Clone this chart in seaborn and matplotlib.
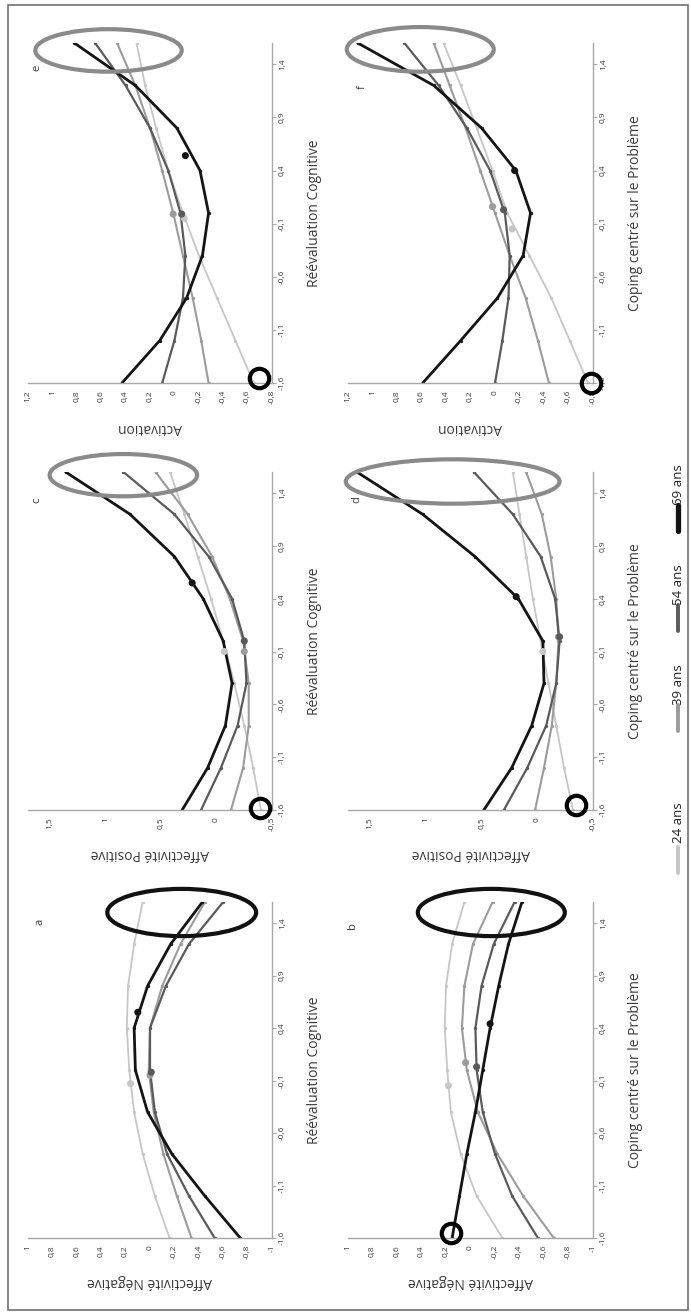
import numpy as np
import pandas as pd
import matplotlib
matplotlib.use('Agg')
import matplotlib.pyplot as plt
import seaborn as sns
from matplotlib.patches import Ellipse, Rectangle
from matplotlib.lines import Line2D

# Données (axe u = prédicteur, valeurs = variable dépendante)
u_points = [-1.6, -1.2, -0.8, -0.4, 0.0, 0.4, 0.8, 1.2, 1.6]
ages = ['24 ans', '39 ans', '54 ans', '69 ans']
u_ticks = [-1.6, -1.1, -0.6, -0.1, 0.4, 0.9, 1.4]

# a : Affectivité Négative / Réévaluation Cognitive
a_24 = [-0.16, -0.04, 0.06, 0.13, 0.17, 0.19, 0.18, 0.13, 0.06]
a_39 = [-0.34, -0.22, -0.11, -0.03, 0.01, 0.00, -0.10, -0.25, -0.45]
a_54 = [-0.53, -0.32, -0.14, -0.04, 0.00, 0.00, -0.13, -0.32, -0.60]
a_69 = [-0.74, -0.45, -0.18, 0.02, 0.12, 0.13, 0.02, -0.17, -0.43]
a_mean_u = [-0.13, -0.05, -0.02, 0.55]
a_mean_v = [0.16, 0.00, -0.01, 0.10]

# b : Affectivité Négative / Coping centré sur le Problème
b_24 = [-0.26, -0.05, 0.08, 0.16, 0.19, 0.21, 0.20, 0.15, 0.05]
b_39 = [-0.68, -0.43, -0.22, -0.06, 0.03, 0.07, 0.05, -0.02, -0.18]
b_54 = [-0.55, -0.34, -0.20, -0.10, -0.05, -0.04, -0.09, -0.19, -0.36]
b_69 = [0.15, 0.09, 0.03, -0.04, -0.10, -0.16, -0.23, -0.31, -0.42]
b_mean_u = [-0.15, 0.07, 0.03, 0.44]
b_mean_v = [0.18, 0.04, -0.05, -0.16]

# c : Affectivité Positive / Réévaluation Cognitive
c_24 = [-0.40, -0.33, -0.25, -0.16, -0.06, 0.05, 0.17, 0.29, 0.42]
c_39 = [-0.13, -0.24, -0.29, -0.29, -0.24, -0.12, 0.04, 0.26, 0.55]
c_54 = [0.14, -0.04, -0.19, -0.27, -0.25, -0.14, 0.07, 0.38, 0.84]
c_69 = [0.31, 0.08, -0.08, -0.14, -0.06, 0.12, 0.38, 0.78, 1.36]
c_mean_u = [-0.10, -0.10, 0.00, 0.55]
c_mean_v = [-0.07, -0.25, -0.25, 0.22]

# d : Affectivité Positive / Coping centré sur le Problème
d_24 = [-0.32, -0.24, -0.17, -0.10, -0.03, 0.04, 0.10, 0.16, 0.22]
d_39 = [0.02, -0.06, -0.13, -0.17, -0.19, -0.17, -0.12, -0.04, 0.10]
d_54 = [0.30, 0.09, -0.08, -0.17, -0.20, -0.16, -0.03, 0.22, 0.57]
d_69 = [0.48, 0.23, 0.05, -0.06, -0.05, 0.17, 0.56, 1.03, 1.62]
d_mean_u = [-0.10, 0.04, 0.04, 0.42]
d_mean_v = [-0.05, -0.19, -0.20, 0.19]

# e : Activation / Réévaluation Cognitive
e_24 = [-0.65, -0.50, -0.35, -0.20, -0.07, 0.05, 0.15, 0.24, 0.31]
e_39 = [-0.28, -0.22, -0.15, -0.07, 0.01, 0.10, 0.20, 0.32, 0.47]
e_54 = [0.10, 0.00, -0.07, -0.09, -0.05, 0.05, 0.20, 0.40, 0.65]
e_69 = [0.43, 0.12, -0.10, -0.23, -0.28, -0.21, -0.02, 0.32, 0.82]
e_mean_u = [-0.05, -0.01, -0.01, 0.54]
e_mean_v = [-0.08, 0.01, -0.06, -0.09]

# f : Activation / Coping centré sur le Problème
f_24 = [-0.76, -0.61, -0.46, -0.28, -0.10, 0.02, 0.15, 0.28, 0.42]
f_39 = [-0.44, -0.35, -0.25, -0.12, 0.00, 0.12, 0.24, 0.37, 0.50]
f_54 = [0.00, -0.06, -0.11, -0.12, -0.08, 0.04, 0.23, 0.46, 0.74]
f_69 = [0.59, 0.28, -0.02, -0.23, -0.29, -0.17, 0.11, 0.50, 1.12]
f_mean_u = [-0.15, 0.06, 0.03, 0.40]
f_mean_v = [-0.14, 0.02, -0.07, -0.16]

sns.set_style('white')
plt.rcParams['font.family'] = ['Open Sans', 'DejaVu Sans']

palette = ['#c6c6c6', '#9b9b9b', '#5a5a5a', '#141414']
widths = [1.3, 1.5, 1.6, 2.0]
axis_grey = '#a8a8a8'
text_col = '#3a3a3a'

W, H = 691, 1315
fig = plt.figure(figsize=(W / 100, H / 100), dpi=100)


def px_axes(x0, y_top, x1, y_bot):
    return fig.add_axes([x0 / W, 1 - y_bot / H, (x1 - x0) / W, (y_bot - y_top) / H])


def fmt(t):
    s = f'{t:g}'.replace('.', ',')
    return '0' if s in ('-0', '0') else s


def draw_panel(ax, curves, mean_u, mean_v, vlim, vticks, vlabel, ulabel,
               letter, letter_pos, ell, ell_col, ring):
    for i in range(4):
        df = pd.DataFrame({'u': u_points, 'v': curves[i]})
        sns.lineplot(data=df, x='v', y='u', orient='y', sort=False,
                     estimator=None, color=palette[i], lw=widths[i],
                     marker='o', markersize=2.4, markeredgewidth=0, ax=ax)
    sns.scatterplot(x=mean_v, y=mean_u, hue=ages, palette=palette, s=26,
                    edgecolor='none', legend=False, ax=ax, zorder=5)

    ax.set_xlim(*vlim)
    ax.set_ylim(-1.6, 1.6)
    ax.set_xticks(vticks)
    ax.set_xticklabels([fmt(t) for t in vticks], rotation=90, fontsize=6,
                       color=text_col)
    ax.yaxis.tick_right()
    ax.set_yticks(u_ticks)
    ax.set_yticklabels([fmt(t) for t in u_ticks], rotation=90, fontsize=6,
                       color=text_col, va='center')
    for s in ['top', 'left']:
        ax.spines[s].set_visible(False)
    for s in ['bottom', 'right']:
        ax.spines[s].set_color(axis_grey)
        ax.spines[s].set_linewidth(1.0)
    ax.tick_params(axis='both', direction='out', length=3, width=0.8,
                   color=axis_grey, pad=2)

    ax.set_xlabel(vlabel, rotation=180, fontsize=10, color=text_col)
    ax.xaxis.set_label_coords(0.5, -0.13)
    ax.xaxis.label.set_va('center')
    ax.yaxis.set_label_position('right')
    ax.set_ylabel(ulabel, rotation=90, fontsize=10, color=text_col)
    ax.yaxis.set_label_coords(1.175, 0.5)
    ax.yaxis.label.set_va('center')
    ax.yaxis.label.set_ha('center')

    ax.text(letter_pos[0], letter_pos[1], letter, transform=ax.transAxes,
            rotation=90, fontsize=8, color=text_col, ha='center', va='center')

    ax.add_patch(Ellipse((ell[0], ell[1]), ell[2], ell[3], fill=False,
                         edgecolor=ell_col, lw=3, clip_on=False, zorder=6))
    if ring is not None:
        ax.plot([ring[0]], [ring[1]], marker='o', ms=14, mfc='none',
                mec='black', mew=3, clip_on=False, zorder=7)


lab_rc = 'Réévaluation Cognitive'
lab_cp = 'Coping centré sur le Problème'

# rangée du haut : e / f
ax_e = px_axes(28, 43, 272, 383)
draw_panel(ax_e, [e_24, e_39, e_54, e_69], e_mean_u, e_mean_v, (1.2, -0.8),
           [1.2, 1.0, 0.8, 0.6, 0.4, 0.2, 0.0, -0.2, -0.4, -0.6, -0.8],
           'Activation', lab_rc, 'e', (0.037, 0.926),
           (0.54, 1.53, 1.2, 0.40), '#8a8a8a', (-0.69, -1.55))
ax_f = px_axes(348, 43, 593, 383)
draw_panel(ax_f, [f_24, f_39, f_54, f_69], f_mean_u, f_mean_v, (1.2, -0.8),
           [1.2, 1.0, 0.8, 0.6, 0.4, 0.2, 0.0, -0.2, -0.4, -0.6, -0.8],
           'Activation', lab_cp, 'f', (0.06, 0.87),
           (0.61, 1.54, 1.2, 0.42), '#8a8a8a', (-0.78, -1.6))

# rangée du milieu : c / d
ax_c = px_axes(28, 472, 272, 810)
draw_panel(ax_c, [c_24, c_39, c_54, c_69], c_mean_u, c_mean_v, (1.7, -0.5),
           [1.5, 1.0, 0.5, 0.0, -0.5],
           'Affectivité Positive', lab_rc, 'c', (0.037, 0.917),
           (0.84, 1.57, 1.33, 0.40), '#8a8a8a', (-0.39, -1.58))
ax_d = px_axes(348, 472, 593, 810)
draw_panel(ax_d, [d_24, d_39, d_54, d_69], d_mean_u, d_mean_v, (1.7, -0.5),
           [1.5, 1.0, 0.5, 0.0, -0.5],
           'Affectivité Positive', lab_cp, 'd', (0.037, 0.917),
           (0.76, 1.51, 1.92, 0.42), '#8a8a8a', (-0.35, -1.55))

# rangée du bas : a / b
ax_a = px_axes(28, 902, 272, 1238)
draw_panel(ax_a, [a_24, a_39, a_54, a_69], a_mean_u, a_mean_v, (1.0, -1.0),
           [1.0, 0.8, 0.6, 0.4, 0.2, 0.0, -0.2, -0.4, -0.6, -0.8, -1.0],
           'Affectivité Négative', lab_rc, 'a', (0.05, 0.94),
           (-0.26, 1.50, 1.22, 0.45), '#111111', None)
ax_b = px_axes(348, 902, 593, 1238)
draw_panel(ax_b, [b_24, b_39, b_54, b_69], b_mean_u, b_mean_v, (1.0, -1.0),
           [1.0, 0.8, 0.6, 0.4, 0.2, 0.0, -0.2, -0.4, -0.6, -0.8, -1.0],
           'Affectivité Négative', lab_cp, 'b', (0.02, 0.93),
           (-0.17, 1.50, 1.2, 0.45), '#111111', (0.16, -1.55))

# légende (verticale, à droite)
leg_text_y = [823, 685, 585, 485]
leg_line_y = [(847, 873), (705, 731), (605, 631), (505, 531)]
leg_lw = [2.8, 2.8, 2.8, 3.8]
for i, age in enumerate(ages):
    y0, y1 = leg_line_y[i]
    fig.add_artist(Line2D([678 / W, 678 / W], [1 - y0 / H, 1 - y1 / H],
                          color=palette[i], lw=leg_lw[i]))
    fig.text(678 / W, 1 - leg_text_y[i] / H, age, rotation=90, fontsize=9.5,
             color='#222222', ha='center', va='center')

# cadre
fig.add_artist(Rectangle((8 / W, 1 - 1310 / H), 680 / W, 1305 / H,
                         fill=False, edgecolor='#707070', lw=1.2))

fig.savefig('out.png', dpi=100)
